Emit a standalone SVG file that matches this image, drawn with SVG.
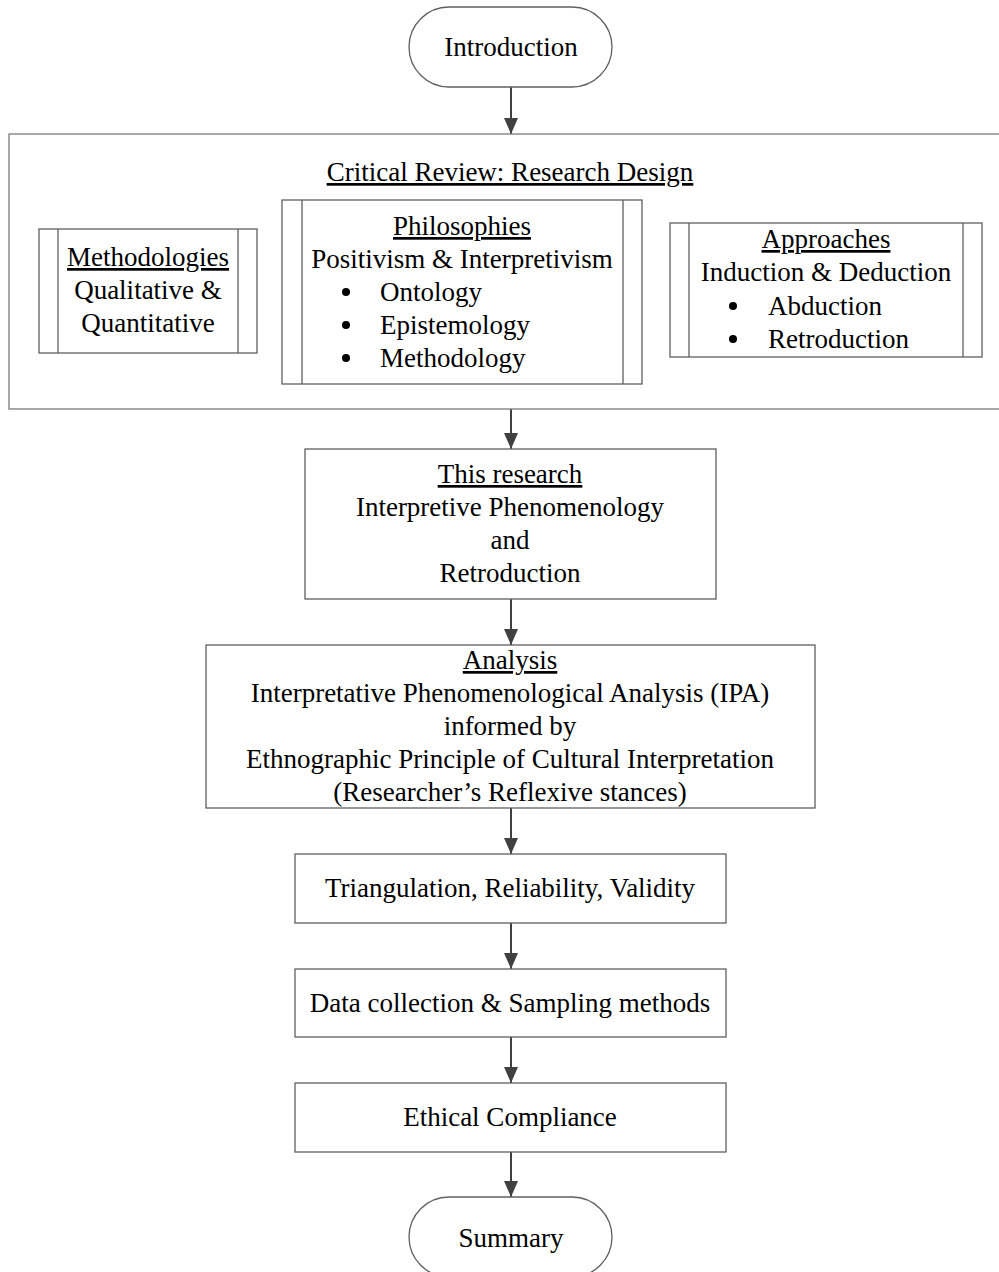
<svg xmlns="http://www.w3.org/2000/svg" width="999" height="1272" viewBox="0 0 999 1272">
  <style>
    text { font-family: "Liberation Serif", "Times New Roman", serif; font-size: 27px; fill: #000; }
    .c { text-anchor: middle; }
    .u { text-decoration: underline; }
    .box { fill: #fff; stroke: #606060; stroke-width: 1.3; }
    .frame { fill: none; stroke: #7a7a7a; stroke-width: 1.3; }
    .bar { stroke: #606060; stroke-width: 1.3; }
    .edge { stroke: #404040; stroke-width: 2; fill: none; marker-end: url(#arrow); }
  </style>
  <defs>
    <marker id="arrow" viewBox="0 0 16 14" refX="16" refY="7" markerWidth="16" markerHeight="14" markerUnits="userSpaceOnUse" orient="auto">
      <path d="M0,0 L16,7 L0,14 Z" fill="#404040"/>
    </marker>
  </defs>

  <!-- connectors -->
  <g id="connectors">
    <line class="edge" x1="511" y1="87" x2="511" y2="134"/>
    <line class="edge" x1="511" y1="409" x2="511" y2="449"/>
    <line class="edge" x1="511" y1="599" x2="511" y2="645"/>
    <line class="edge" x1="511" y1="808" x2="511" y2="854"/>
    <line class="edge" x1="511" y1="923" x2="511" y2="969"/>
    <line class="edge" x1="511" y1="1037" x2="511" y2="1083"/>
    <line class="edge" x1="511" y1="1152" x2="511" y2="1197"/>
  </g>

  <g id="introduction">
    <rect class="box" x="409" y="7" width="203" height="80" rx="40" ry="40"/>
    <text class="c" x="511" y="56">Introduction</text>
  </g>

  <g id="critical-review">
    <rect class="frame" x="9" y="134" width="1000" height="275"/>
    <text class="c u" x="510" y="181">Critical Review: Research Design</text>
  </g>

  <g id="methodologies">
    <rect class="box" x="39" y="229" width="218" height="124"/>
    <line class="bar" x1="58" y1="229" x2="58" y2="353"/>
    <line class="bar" x1="238" y1="229" x2="238" y2="353"/>
    <text class="c u" x="148" y="266">Methodologies</text>
    <text class="c" x="148" y="299">Qualitative &amp;</text>
    <text class="c" x="148" y="332">Quantitative</text>
  </g>

  <g id="philosophies">
    <rect class="box" x="282" y="200" width="360" height="184"/>
    <line class="bar" x1="302" y1="200" x2="302" y2="384"/>
    <line class="bar" x1="623" y1="200" x2="623" y2="384"/>
    <text class="c u" x="462" y="235">Philosophies</text>
    <text class="c" x="462" y="268">Positivism &amp; Interpretivism</text>
    <circle cx="346" cy="292" r="4"/>
    <text x="380" y="301">Ontology</text>
    <circle cx="346" cy="325" r="4"/>
    <text x="380" y="334">Epistemology</text>
    <circle cx="346" cy="358" r="4"/>
    <text x="380" y="367">Methodology</text>
  </g>

  <g id="approaches">
    <rect class="box" x="670" y="223" width="312" height="134"/>
    <line class="bar" x1="689" y1="223" x2="689" y2="357"/>
    <line class="bar" x1="963" y1="223" x2="963" y2="357"/>
    <text class="c u" x="826" y="248">Approaches</text>
    <text class="c" x="826" y="281">Induction &amp; Deduction</text>
    <circle cx="733" cy="306" r="4"/>
    <text x="768" y="315">Abduction</text>
    <circle cx="733" cy="339" r="4"/>
    <text x="768" y="348">Retroduction</text>
  </g>

  <g id="this-research">
    <rect class="box" x="305" y="449" width="411" height="150"/>
    <text class="c u" x="510" y="483">This research</text>
    <text class="c" x="510" y="516">Interpretive Phenomenology</text>
    <text class="c" x="510" y="549">and</text>
    <text class="c" x="510" y="582">Retroduction</text>
  </g>

  <g id="analysis">
    <rect class="box" x="206" y="645" width="609" height="163"/>
    <text class="c u" x="510" y="669">Analysis</text>
    <text class="c" x="510" y="702">Interpretative Phenomenological Analysis (IPA)</text>
    <text class="c" x="510" y="735">informed by</text>
    <text class="c" x="510" y="768">Ethnographic Principle of Cultural Interpretation</text>
    <text class="c" x="510" y="801">(Researcher’s Reflexive stances)</text>
  </g>

  <g id="triangulation">
    <rect class="box" x="295" y="854" width="431" height="69"/>
    <text class="c" x="510" y="897">Triangulation, Reliability, Validity</text>
  </g>

  <g id="data-collection">
    <rect class="box" x="295" y="969" width="431" height="68"/>
    <text class="c" x="510" y="1012">Data collection &amp; Sampling methods</text>
  </g>

  <g id="ethical-compliance">
    <rect class="box" x="295" y="1083" width="431" height="69"/>
    <text class="c" x="510" y="1126">Ethical Compliance</text>
  </g>

  <g id="summary">
    <rect class="box" x="409" y="1197" width="203" height="80" rx="40" ry="40"/>
    <text class="c" x="511" y="1247">Summary</text>
  </g>
</svg>
